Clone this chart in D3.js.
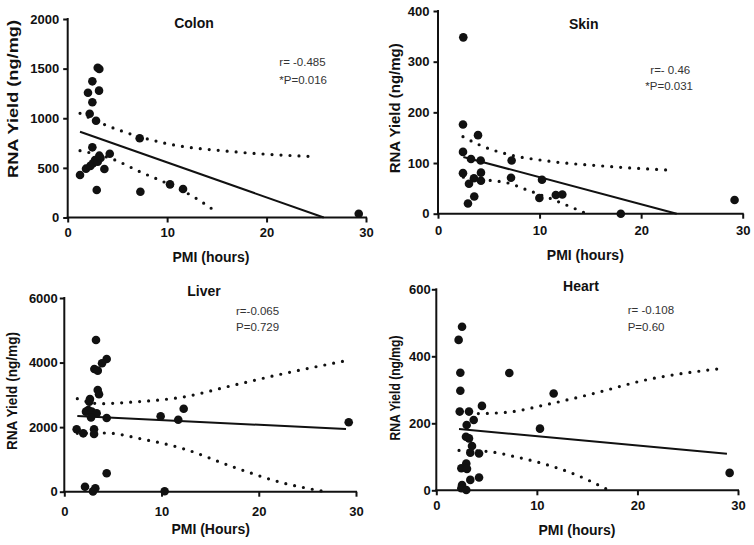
<!DOCTYPE html>
<html><head><meta charset="utf-8">
<script src="https://cdn.jsdelivr.net/npm/d3@7"></script>
<style>body{margin:0;background:#fff}svg{display:block}</style>
</head><body>
<svg id="c" width="754" height="545"></svg>
<script>
// ---------- DATA ----------
const xTicks = [0, 10, 20, 30];

const colonPoints = [[1.24,428],[1.84,492],[2.28,520],[2.55,546],[2.75,579],[3.02,562],[3.3,600],[2.48,707],[3.18,623],[4.23,643],[3.69,489],[2.92,277],[2.21,1046],[2.85,975],[2.48,1161],[2.04,1257],[3.15,1278],[2.48,1372],[3.02,1509],[3.18,1496],[7.24,798],[7.31,260],[10.29,334],[11.6,287],[29.27,38]];
const colonFit = [[1.24,864],[25.75,0]];
const colonUpper = [[1.24,1050],[3.58,942],[9.86,747],[16.66,663],[25.05,613]];
const colonLower = [[1.24,673],[4.59,586],[7.27,461],[9.96,345],[12.64,210],[15.15,42]];
const colonYTicks = [0, 500, 1000, 1500, 2000];

const skinPoints = [[2.49,348],[2.46,176],[3.94,155],[2.46,122],[3.25,108],[4.2,105],[7.25,105],[2.46,80],[4.23,81],[3.54,70],[4.23,65],[3.05,59],[7.19,71],[3.57,34],[2.95,20],[10.24,67],[9.98,31],[11.6,37],[12.24,38],[18.0,0],[29.2,27]];
const skinFit = [[2.5,112],[23.5,0]];
const skinUpper = [[2.46,152],[4.17,135],[7.12,116],[10.4,105],[16.97,93],[22.87,86]];
const skinLower = [[2.5,72],[4.99,66],[6.8,61],[8.76,47],[11.06,30],[14.4,2]];
const skinYTicks = [0, 100, 200, 300, 400];

const liverPoints = [[3.26,4700],[4.36,4111],[3.88,3977],[3.09,3800],[3.44,3750],[3.44,3150],[3.57,3017],[2.64,2870],[2.57,2790],[2.47,2530],[2.23,2480],[2.82,2480],[3.33,2430],[2.75,2300],[4.36,2283],[1.27,1933],[1.95,1808],[3.06,1933],[3.06,1788],[4.36,570],[2.13,155],[3.19,105],[2.95,10],[9.91,2336],[11.72,2230],[12.28,2571],[29.25,2150],[10.32,12]];
const liverFit = [[1.34,2345],[28.97,1942]];
const liverUpper = [[1.34,2882],[3.67,2726],[7.1,2779],[12.24,2934],[17.38,3296],[22.52,3656],[28.7,4040]];
const liverLower = [[1.34,1809],[4.36,1818],[7.8,1642],[12.24,1332],[17.38,765],[22.52,270],[26.47,22]];
const liverYTicks = [0, 2000, 4000, 6000];

const heartPoints = [[2.56,488],[2.22,449],[2.39,351],[2.39,297],[2.33,235],[3.25,235],[4.54,252],[3.72,210],[3.02,195],[2.95,160],[3.25,155],[3.55,132],[3.38,112],[4.25,110],[2.98,80],[2.49,66],[3.05,64],[3.38,31],[4.25,38],[2.56,16],[2.49,6],[2.98,1],[7.26,350],[11.67,289],[10.31,184],[29.17,52]];
const heartFit = [[2.26,183],[28.9,109]];
const heartUpper = [[2.4,234],[4.05,229],[7.36,234],[10.68,254],[15.65,289],[20.62,328],[28.74,365]];
const heartLower = [[2.26,119],[5.04,116],[8.02,99],[10.68,79],[14.0,45],[16.9,4]];
const heartYTicks = [0, 200, 400, 600];

// ---------- LAYOUT ----------
const panels = [
  {title:"Colon", xLabel:"PMI (hours)", pts:colonPoints, fit:colonFit, up:colonUpper, lo:colonLower, yTicks:colonYTicks, yMax:2000,
   xr:[67.7,366], yr:[217.5,19], xPad:5, yPad:4,
   tPos:[194,28], xlPos:[211,262], ylPos:[13,99], ylLen:158,
   stats:[["r= -0.485",279.3,66],["*P=0.016",279.3,84]]},
  {title:"Skin", xLabel:"PMI (hours)", pts:skinPoints, fit:skinFit, up:skinUpper, lo:skinLower, yTicks:skinYTicks, yMax:400,
   xr:[438,742.7], yr:[213.7,11], xPad:7, yPad:4,
   tPos:[583.7,28.5], xlPos:[585.3,260], ylPos:[395,108.3], ylLen:130,
   stats:[["r=- 0.46",650.3,74],["*P=0.031",645.3,90]]},
  {title:"Liver", xLabel:"PMI (Hours)", pts:liverPoints, fit:liverFit, up:liverUpper, lo:liverLower, yTicks:liverYTicks, yMax:6000,
   xr:[64.3,356], yr:[491.7,298], xPad:10, yPad:2,
   tPos:[204,295.5], xlPos:[210.7,534], ylPos:[11.7,391], ylLen:118,
   stats:[["r=-0.065",236,315],["P=0.729",236,331]]},
  {title:"Heart", xLabel:"PMI (hours)", pts:heartPoints, fit:heartFit, up:heartUpper, lo:heartLower, yTicks:heartYTicks, yMax:600,
   xr:[436.3,738], yr:[490.3,289.3], xPad:5, yPad:1,
   tPos:[581,291], xlPos:[577,535], ylPos:[395.3,388], ylLen:105,
   stats:[["r= -0.108",627.7,314],["P=0.60",627.7,331]]}
];

const svg = d3.select("#c");
const FONT = "'Liberation Sans', Arial, Helvetica, sans-serif";
const INK = "#111";

panels.forEach(p => {
  const x = d3.scaleLinear().domain([0,30]).range(p.xr);
  const y = d3.scaleLinear().domain([0,p.yMax]).range(p.yr);
  const g = svg.append("g");

  const xa = g.append("g").attr("transform",`translate(0,${p.yr[0]})`)
    .call(d3.axisBottom(x).tickValues(xTicks).tickFormat(d3.format("d")).tickSize(5).tickPadding(p.xPad).tickSizeOuter(0));
  const ya = g.append("g").attr("transform",`translate(${p.xr[0]},0)`)
    .call(d3.axisLeft(y).tickValues(p.yTicks).tickFormat(d3.format("d")).tickSize(4.5).tickPadding(p.yPad).tickSizeOuter(0));
  [xa,ya].forEach(a=>{
    a.select(".domain").attr("stroke",INK).attr("stroke-width",2);
    a.selectAll(".tick line").attr("stroke",INK).attr("stroke-width",2);
    a.selectAll(".tick text").attr("fill",INK).style("font-family",FONT).style("font-weight","bold").style("font-size","13px");
  });
  xa.select(".domain").attr("d",`M${p.xr[0]-1},0H${p.xr[1]+1}`);
  ya.select(".domain").attr("d",`M0,${p.yr[0]+1}V${p.yr[1]-1}`);

  const line = d3.line().x(d=>x(d[0])).y(d=>y(d[1]));
  const curve = d3.line().x(d=>x(d[0])).y(d=>y(d[1])).curve(d3.curveMonotoneX);

  [p.up,p.lo].forEach(c=>{
    g.append("path").attr("d",curve(c)).attr("fill","none").attr("stroke",INK)
     .attr("stroke-width",3.2).attr("stroke-linecap","round").attr("stroke-dasharray","0 9");
  });
  g.append("path").attr("d",line(p.fit)).attr("fill","none").attr("stroke",INK).attr("stroke-width",2);

  g.selectAll("circle.pt").data(p.pts).join("circle").attr("class","pt")
    .attr("cx",d=>x(d[0])).attr("cy",d=>y(d[1])).attr("r",4.3).attr("fill",INK);

  g.append("text").attr("x",p.tPos[0]).attr("y",p.tPos[1]).attr("text-anchor","middle")
    .style("font-family",FONT).style("font-weight","bold").style("font-size","14px").attr("fill",INK).text(p.title);
  g.append("text").attr("x",p.xlPos[0]).attr("y",p.xlPos[1]).attr("text-anchor","middle")
    .style("font-family",FONT).style("font-weight","bold").style("font-size","14px").attr("fill",INK).text(p.xLabel);
  g.append("text").attr("transform",`translate(${p.ylPos[0]},${p.ylPos[1]}) rotate(-90)`)
    .attr("text-anchor","middle").attr("dy","0.35em")
    .attr("textLength",p.ylLen).attr("lengthAdjust","spacingAndGlyphs")
    .style("font-family",FONT).style("font-weight","bold").style("font-size","14.5px").attr("fill",INK).text("RNA Yield (ng/mg)");
  p.stats.forEach(s=>{
    g.append("text").attr("x",s[1]).attr("y",s[2])
      .style("font-family",FONT).style("font-size","11.5px").attr("fill","#333").text(s[0]);
  });
});
</script>
</body></html>
